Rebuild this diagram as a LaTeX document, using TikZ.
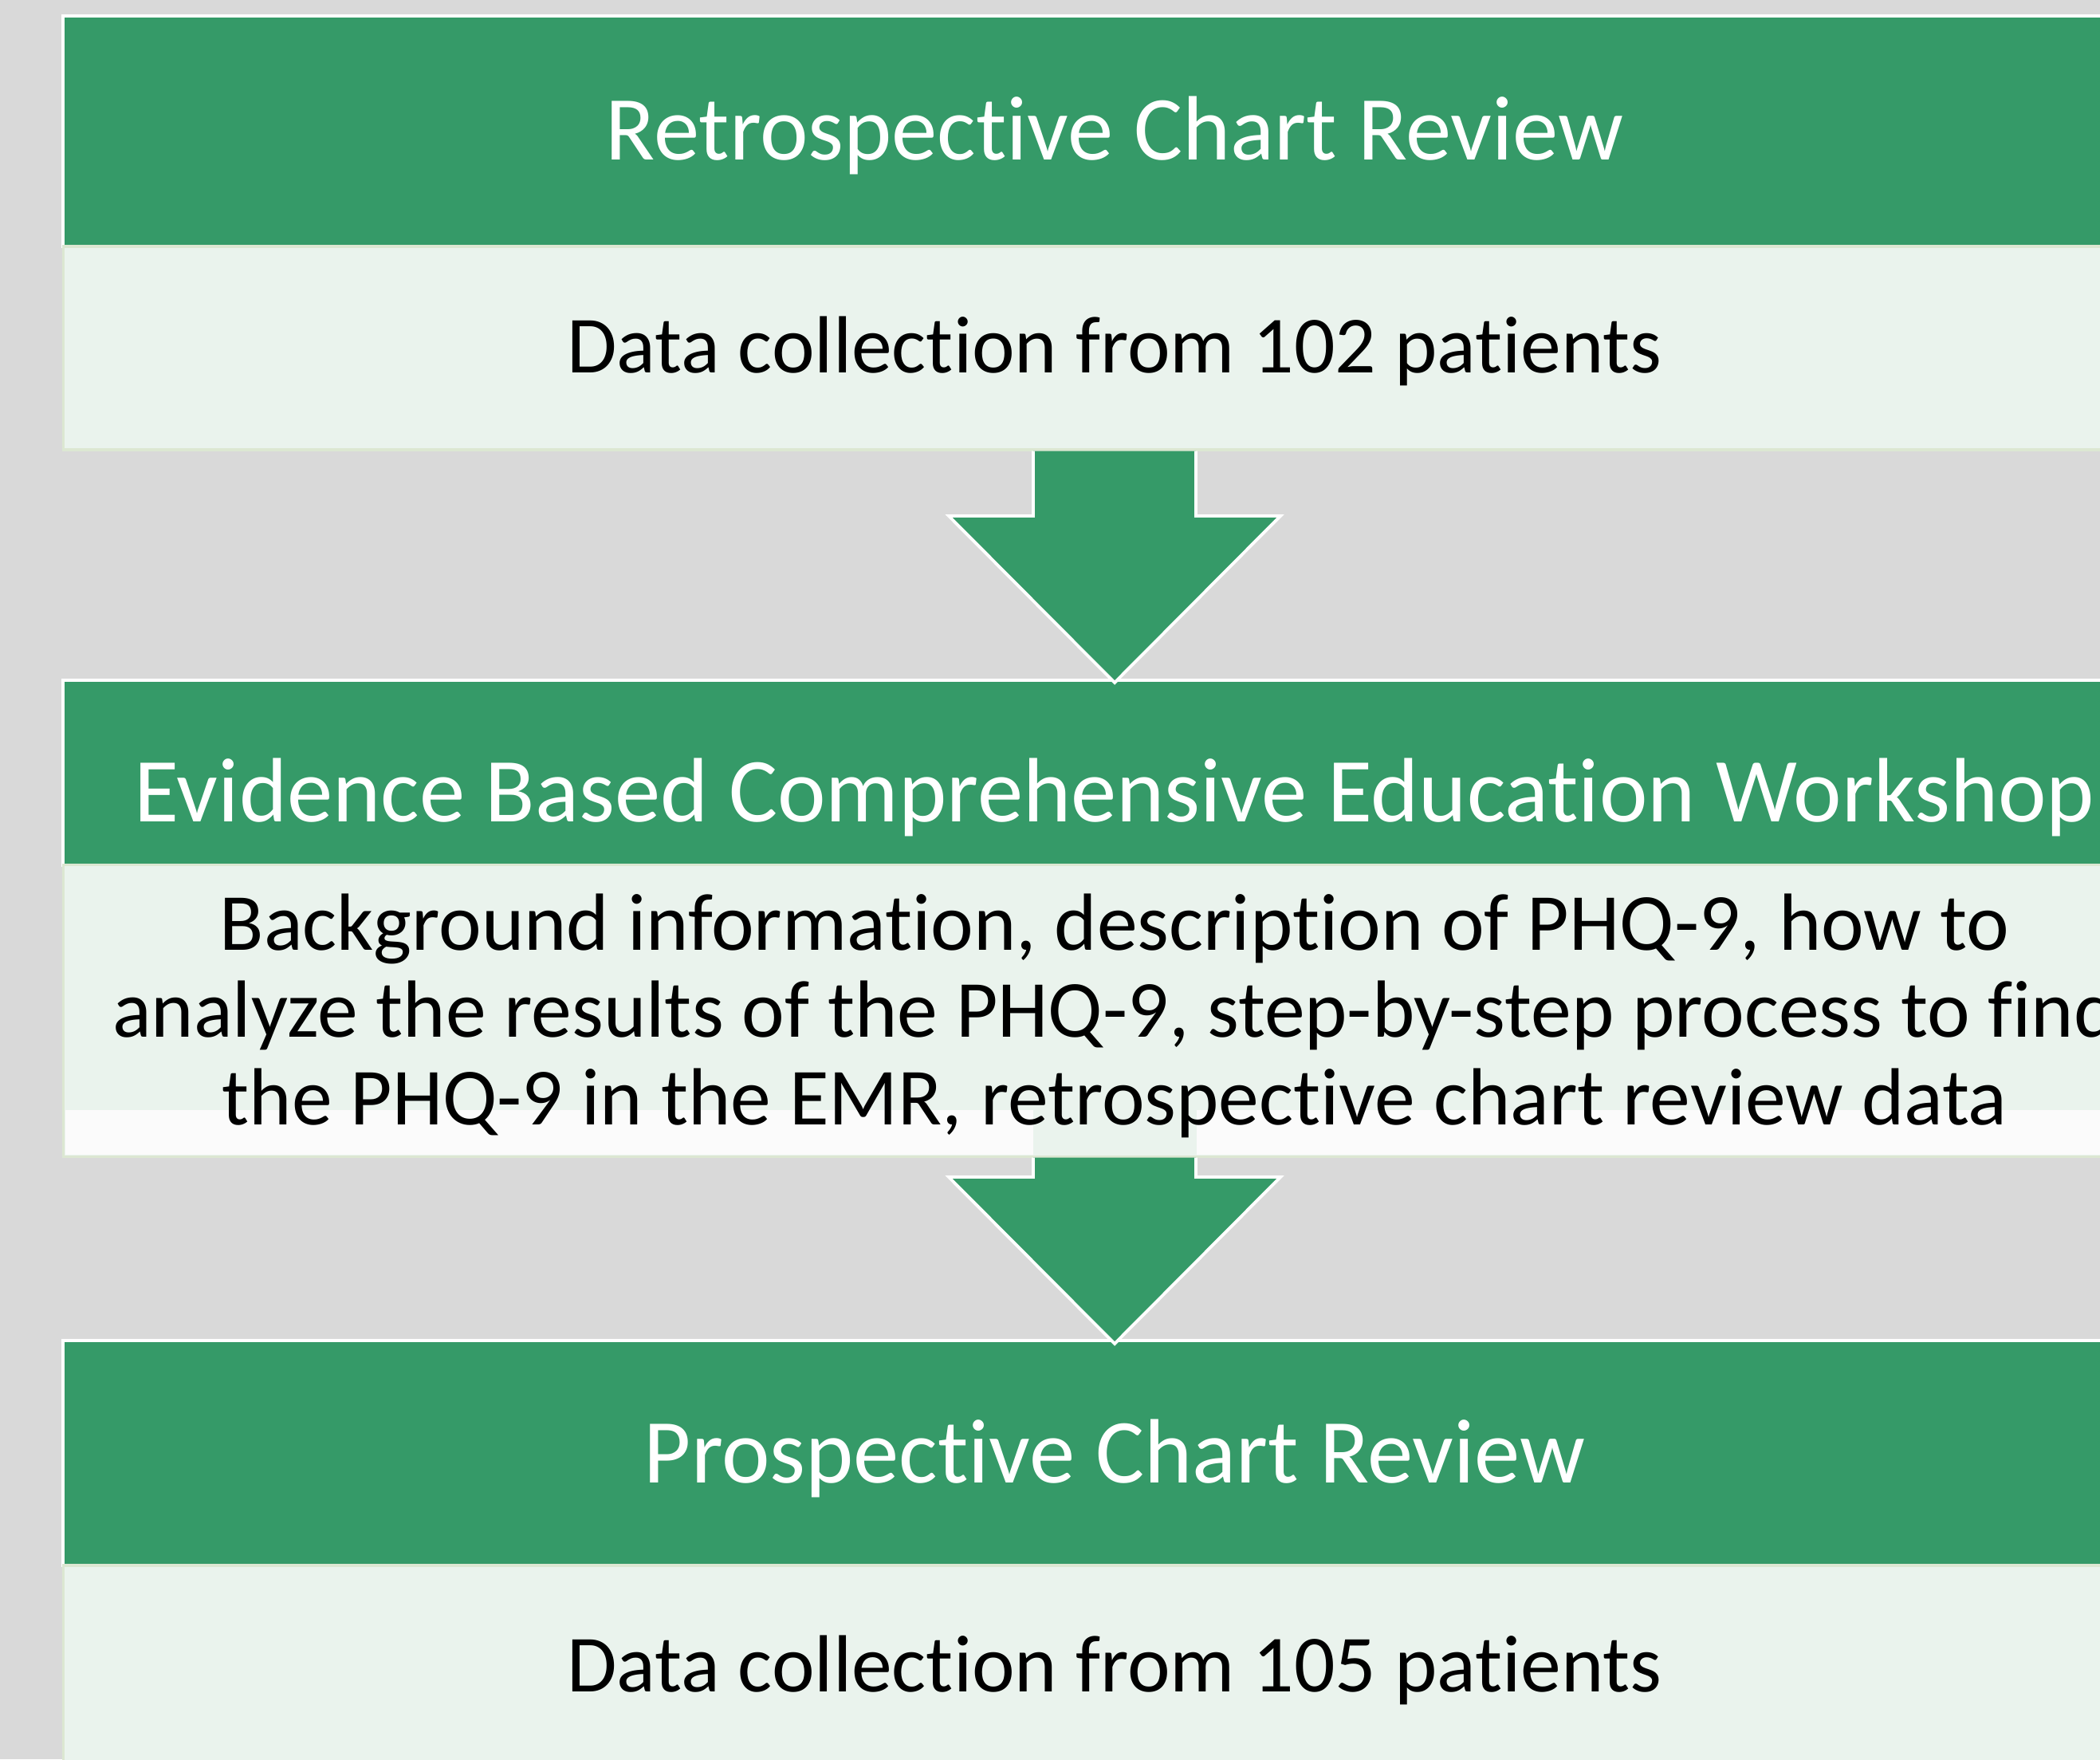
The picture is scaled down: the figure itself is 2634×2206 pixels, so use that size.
\documentclass[tikz,border=0pt]{standalone}
\usepackage{fontspec}
\setmainfont{Carlito}[Ligatures=NoCommon]
\usetikzlibrary{positioning}
\usetikzlibrary{calc}

\definecolor{slidegray}{HTML}{D9D9D9}
\definecolor{headgreen}{HTML}{359A68}
\definecolor{bodygreen}{HTML}{EAF3ED}
\definecolor{bodyedge}{HTML}{DCE7D2}
\definecolor{stripwhite}{HTML}{FBFBFB}

\begin{document}
\begin{tikzpicture}[x=0.01cm,y=-0.01cm,
  head/.style={rectangle,fill=headgreen,draw=white,line width=1.1pt,minimum width=26.36cm,inner sep=0pt},
  body/.style={rectangle,fill=bodygreen,draw=bodyedge,line width=0.9pt,minimum width=26.36cm,inner sep=0pt},
  headtext/.style={anchor=base,inner sep=0pt,text=white,font=\fontsize{32.6}{38}\selectfont},
  bodytext/.style={anchor=base,inner sep=0pt,text=black,align=center,font=\fontsize{28.9}{31.1}\selectfont},
  blockarrow/.style={fill=headgreen,draw=white,line width=1.1pt,line join=miter}]
\useasboundingbox (0,0) rectangle (2634,2206);
\clip (0,0) rectangle (2634,2206);
\fill[slidegray] (0,0) rectangle (2634,2206);

% three steps, header bar over a text panel
\node[head,minimum height=2.89cm] (r1head) at (1398,164.5) {};
\node[body,minimum height=2.55cm] (r1body) at (1398,436.5) {};
\node[head,minimum height=2.32cm] (r2head) at (1398,969) {};
\node[body,minimum height=3.65cm] (r2body) at (1398,1267.5) {};
\fill[stripwhite] (82,1392) rectangle (1296,1448);
\fill[stripwhite] (1501,1392) rectangle (2716,1448);
\node[head,minimum height=2.82cm] (r3head) at (1398,1822) {};
\node[body,minimum height=2.55cm] (r3body) at (1398,2090.5) {};

% down arrows between the steps
\coordinate (tip1) at ($(r2head.north)+(0,5)$);
\coordinate (tip2) at ($(r3head.north)+(0,6)$);
\draw[blockarrow] ($(r1body.south)+(-102,0)$) -- ($(tip1)+(-102,-209)$) -- ($(tip1)+(-208,-209)$)
  -- (tip1) -- ($(tip1)+(208,-209)$) -- ($(tip1)+(102,-209)$) -- ($(r1body.south)+(102,0)$);
\draw[blockarrow] ($(r2body.south)+(-102,0)$) -- ($(tip2)+(-102,-209)$) -- ($(tip2)+(-208,-209)$)
  -- (tip2) -- ($(tip2)+(208,-209)$) -- ($(tip2)+(102,-209)$) -- ($(r2body.south)+(102,0)$);

% texts (base of a wrapped node is its last line)
\node[headtext] (t1head) at (1398,201) {Retrospective Chart Review};
\node[bodytext] (t1body) at (1398,467) {Data collection from 102 patients};
\node[headtext] (t2head) at (1398,1030) {Evidence Based Comprehensive Education Workshop};
\node[bodytext] (t2body) at (1398,1410) {Background information, description of PHQ-9, how to\\
  analyze the results of the PHQ-9, step-by-step process to find\\
  the PHQ-9 in the EMR, retrospective chart review data};
\node[headtext] (t3head) at (1398,1859) {Prospective Chart Review};
\node[bodytext] (t3body) at (1398,2121) {Data collection from 105 patients};

\end{tikzpicture}
\end{document}
